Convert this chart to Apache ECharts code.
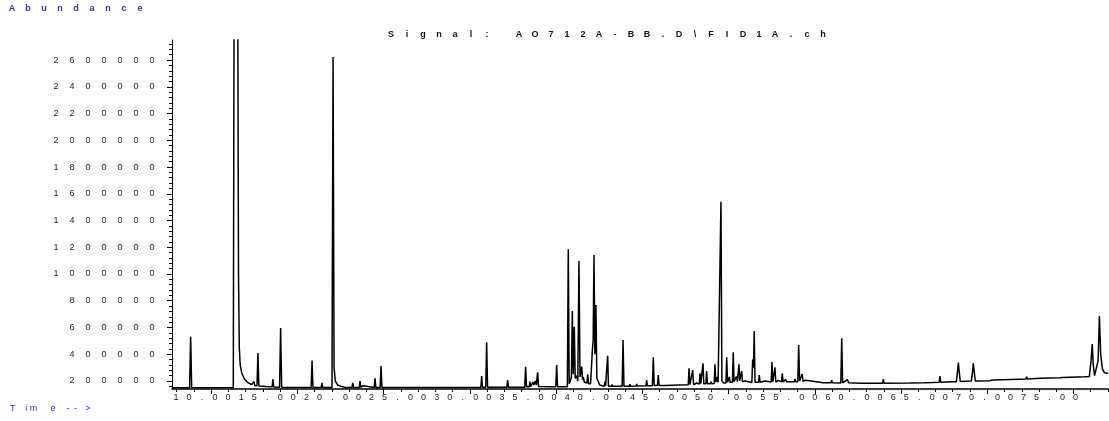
<!DOCTYPE html>
<html>
<head>
<meta charset="utf-8">
<script src="https://cdn.jsdelivr.net/npm/echarts@6/dist/echarts.min.js"></script>
<style>html,body{margin:0;padding:0;background:#fff}#chart{width:1109px;height:421px}</style>
</head>
<body>
<div id="chart"></div>
<script>
// ---- data (time in minutes, abundance) ----
const xLabelValues = [10, 15, 20, 25, 30, 35, 40, 45, 50, 55, 60, 65, 70, 75];
const yLabelValues = [200000, 400000, 600000, 800000, 1000000, 1200000, 1400000, 1600000, 1800000, 2000000, 2200000, 2400000, 2600000];

const signalA = [
  [7.70,150000],[9.05,150000],[9.13,530000],[9.21,150000],
  [12.40,152000],[12.47,3500000],[12.73,3500000],[12.80,1000000],[12.86,450000],[12.93,320000],[13.05,260000],[13.25,215000],[13.50,190000],[13.80,172000],
  [13.93,168000],[13.99,195000],[14.05,166000],
  [14.22,164000],[14.29,409000],[14.36,162000],
  [14.90,158000],
  [15.38,156000],[15.44,215000],[15.50,155000],
  [15.95,154000],[16.03,596000],[16.11,154000],
  [16.50,152000],
  [16.85,151000],[16.90,165000],[16.96,151000],
  [18.37,151000],[18.44,353000],[18.51,151000],
  [19.14,151000],[19.20,185000],[19.26,151000],
  [19.97,151000],[20.05,2622000],[20.13,300000],[20.22,200000],[20.40,170000],[20.70,158000],[21.00,152000],
  [21.50,152000],[21.56,185000],[21.62,152000],
  [22.06,151000],[22.12,200000],[22.18,152000],[22.30,151000],[22.35,165000],[22.40,151000],
  [23.21,151000],[23.27,220000],[23.33,151000],
  [23.66,151000],[23.73,312000],[23.80,151000],
  [24.52,151000],[24.57,158000],[24.62,151000],
  [26.13,151000],[26.18,160000],[26.23,151000],
  [27.66,151000],[27.71,158000],[27.76,151000],
  [28.43,151000],[28.48,157000],[28.53,151000],
  [29.97,151000]
];

const signalB = [
  [30.02,158000],[30.07,152000],
  [30.50,152000],[30.55,162000],[30.60,152000],
  [30.96,152000],[31.01,165000],[31.06,153000],
  [31.39,153000],[31.45,237000],[31.51,153000],
  [31.76,153000],[31.83,489000],[31.90,153000],
  [32.73,153000],[32.78,160000],[32.83,153000],
  [33.03,153000],[33.08,158000],[33.13,153000],
  [33.38,153000],[33.44,207000],[33.50,153000],
  [34.54,154000],[34.59,160000],[34.64,154000],
  [34.75,154000],[34.82,307000],[34.89,156000],
  [35.10,156000],[35.15,195000],[35.20,158000],[35.33,160000],[35.38,192000],[35.45,170000],[35.52,172000],[35.57,200000],[35.64,170000],[35.74,265000],[35.81,158000],
  [36.71,156000],[36.76,160000],[36.81,156000],
  [37.13,156000],[37.20,320000],[37.27,156000],
  [37.63,156000],[37.68,160000],[37.73,156000],
  [38.02,157000],[38.09,1185000],[38.16,180000],[38.25,200000],[38.33,230000],[38.40,723000],[38.47,250000],[38.55,606000],[38.62,220000],[38.73,240000],[38.82,200000],
  [38.91,1097000],[38.99,230000],[39.06,220000],[39.12,307000],[39.18,210000],[39.24,230000],[39.32,190000],[39.53,185000],[39.58,250000],[39.64,180000],
  [39.80,180000],[39.88,190000],[39.95,450000],[40.00,500000],[40.06,1142000],[40.13,400000],[40.21,768000],[40.28,220000],[40.37,200000],[40.50,170000],
  [40.85,160000],[40.90,195000],[40.95,162000],
  [41.05,160000],[41.11,389000],[41.17,160000],
  [41.40,160000],[41.44,175000],[41.48,160000],
  [42.22,160000],[42.29,506000],[42.36,160000],
  [42.77,160000],[42.82,175000],[42.87,160000],
  [43.29,162000],[43.34,178000],[43.39,162000],
  [44.05,165000],[44.10,207000],[44.15,165000],
  [44.54,165000],[44.61,377000],[44.68,166000],
  [44.93,166000],[44.99,245000],[45.05,166000]
];

const signalC = [
  [45.53,167000],[45.58,175000],[45.63,167000],
  [46.55,170000],[46.60,180000],[46.70,180000],[46.75,170000],
  [47.29,172000],[47.35,295000],[47.42,172000],[47.57,172000],[47.63,282000],[47.70,172000],
  [47.94,185000],[48.00,175000],
  [48.14,176000],[48.19,257000],[48.25,180000],[48.36,180000],[48.42,332000],[48.48,180000],[48.64,180000],[48.70,275000],[48.76,180000],
  [48.98,180000],[49.03,195000],[49.08,180000],
  [49.28,182000],[49.34,325000],[49.40,190000],[49.52,230000],[49.58,190000],
  [49.73,190000],[49.80,1540000],[49.87,200000],[49.95,200000],[50.02,185000],
  [50.18,185000],[50.24,377000],[50.30,190000],[50.44,230000],[50.50,190000],
  [50.68,190000],[50.74,415000],[50.80,195000],[51.00,235000],[51.06,195000],
  [51.13,195000],[51.18,325000],[51.24,200000],[51.33,200000],[51.39,275000],[51.45,195000],
  [51.64,200000],[51.75,188000],
  [52.17,188000],[52.23,362000],[52.29,300000],[52.35,574000],[52.41,190000],
  [52.68,190000],[52.74,245000],[52.80,190000],
  [53.17,200000],[53.25,192000],
  [53.65,192000],[53.71,342000],[53.77,192000],[53.88,192000],[53.94,302000],[54.00,192000],
  [54.19,205000],[54.25,192000],
  [54.44,193000],[54.50,257000],[54.56,193000],
  [54.76,210000],[54.85,194000],
  [55.43,195000],[55.48,215000],[55.53,195000],
  [55.69,195000],[55.76,469000],[55.83,200000],[55.97,200000],[56.03,252000],[56.09,198000],
  [56.29,205000],[56.40,194000],
  [57.39,190000],[57.60,186000],
  [58.24,186000],[58.29,205000],[58.34,186000],
  [58.99,185000],[59.06,519000],[59.13,186000],
  [59.49,210000],[59.60,186000]
];

const signalD = [
  [60.46,183000],
  [62.19,183000],[62.25,213000],[62.31,183000],
  [64.30,184000],
  [65.40,186000],[65.44,200000],[65.48,186000],
  [66.04,188000],[66.08,198000],[66.12,188000],
  [66.53,190000],[66.59,237000],[66.66,190000],
  [67.50,194000],
  [67.85,195000],[67.93,260000],[68.00,337000],[68.08,260000],[68.15,197000],
  [69.00,199000],[69.08,260000],[69.15,332000],[69.23,260000],[69.30,200000],
  [69.62,200000],[69.66,212000],[69.72,200000],
  [70.40,202000],[70.60,207000],
  [72.70,213000],
  [73.18,214000],[73.24,232000],[73.30,215000],
  [74.30,220000],
  [75.80,225000],
  [76.00,226000],[76.05,235000],[76.10,226000],
  [77.70,232000],
  [78.05,234000],[78.18,350000],[78.27,477000],[78.35,320000],[78.45,240000],[78.58,240000],[78.72,350000],[78.82,686000],[78.92,400000],[79.05,290000],[79.20,262000],[79.48,258000]
];

// ---- rendering ----
const FONT = '"Liberation Sans", Arial, Helvetica, sans-serif';
const signal = signalA.concat(signalB, signalC, signalD);
const X_MIN = 7.70, X_MAX = 79.48, Y_MIN = 140000, Y_MAX = 2750000;

function spaced(str, style) {
  return str.split('').map(function (ch) { return '{' + style + '|' + ch + '}'; }).join('');
}

// y ticks: minor every 40000, major at labels
const yMinorTicks = [];
for (let v = 160000; v <= 2720000; v += 40000) yMinorTicks.push(v);
// x ticks: the reference's tick marks (pitch ~1.32 min, tall every 5th)
const xMinorTicks = [], xMajorTicks = [];
for (let k = -47; k <= 7; k++) {
  const t = +(70.22 + k * 1.3228).toFixed(3);
  if (t < X_MIN || t > X_MAX) continue;
  if (k % 5 === 0) xMajorTicks.push(t); else xMinorTicks.push(t);
}

const chart = echarts.init(document.getElementById('chart'), null, { renderer: 'canvas' });
const timeGlyphs = [['T', 12.7], ['i', 26.2], ['m', 33.5], ['e', 53], ['-', 68], ['-', 75.5], ['>', 88]];

chart.setOption({
  animation: false,
  backgroundColor: '#ffffff',
  title: [
    {
      text: spaced('Abundance', 'a'), left: 4, top: 4, padding: 0,
      textStyle: { rich: { a: { width: 16, align: 'center', fontSize: 9, color: '#33339f', fontFamily: FONT } } }
    },
    {
      text: spaced('Signal: AO712A-BB.D\\FID1A.ch', 's'), left: 383, top: 30, padding: 0,
      textStyle: { rich: { s: { width: 16, align: 'center', fontSize: 9, color: '#111', fontFamily: FONT } } }
    }
  ],
  graphic: timeGlyphs.map(function (g) {
    return { type: 'text', x: g[1], y: 409, style: { text: g[0], fill: '#33339f', font: '9px ' + FONT, textAlign: 'center', textVerticalAlign: 'middle' } };
  }),
  grid: { left: 172, right: 1, top: 40, bottom: 32, containLabel: false },
  xAxis: [
    {
      type: 'value', position: 'bottom', min: X_MIN, max: X_MAX,
      axisLine: { show: true, onZero: false, lineStyle: { color: '#000', width: 1.5 } },
      axisTick: { show: true, customValues: xMinorTicks, length: 3, lineStyle: { color: '#000', width: 1 } },
      axisLabel: {
        show: true, customValues: xLabelValues, margin: 4, interval: 0, hideOverlap: false,
        formatter: function (v) { return spaced(Number(v).toFixed(2), 'x'); },
        rich: { x: { width: 13, align: 'center', fontSize: 9, color: '#222', fontFamily: FONT } }
      },
      splitLine: { show: false }
    },
    {
      type: 'value', position: 'bottom', min: X_MIN, max: X_MAX,
      axisLine: { show: false, onZero: false },
      axisTick: { show: true, customValues: xMajorTicks, length: 5, lineStyle: { color: '#000', width: 1 } },
      axisLabel: { show: false },
      splitLine: { show: false }
    }
  ],
  yAxis: [
    {
      type: 'value', position: 'left', min: Y_MIN, max: Y_MAX,
      axisLine: { show: true, onZero: false, lineStyle: { color: '#000', width: 1 } },
      axisTick: { show: true, customValues: yMinorTicks, length: 3, lineStyle: { color: '#000', width: 1 } },
      axisLabel: {
        show: true, customValues: yLabelValues, margin: 12,
        formatter: function (v) { return spaced(String(v), 'y'); },
        rich: { y: { width: 16, align: 'center', fontSize: 9, color: '#222', fontFamily: FONT } }
      },
      splitLine: { show: false }
    },
    {
      type: 'value', position: 'left', min: Y_MIN, max: Y_MAX,
      axisLine: { show: false, onZero: false },
      axisTick: { show: true, customValues: yLabelValues, length: 5, lineStyle: { color: '#000', width: 1 } },
      axisLabel: { show: false },
      splitLine: { show: false }
    }
  ],
  series: [
    {
      type: 'line', xAxisIndex: 0, yAxisIndex: 0, data: signal,
      showSymbol: false, symbol: 'none', clip: true, silent: true,
      lineStyle: { color: '#000', width: 1.5 }
    }
  ]
});
</script>
</body>
</html>
